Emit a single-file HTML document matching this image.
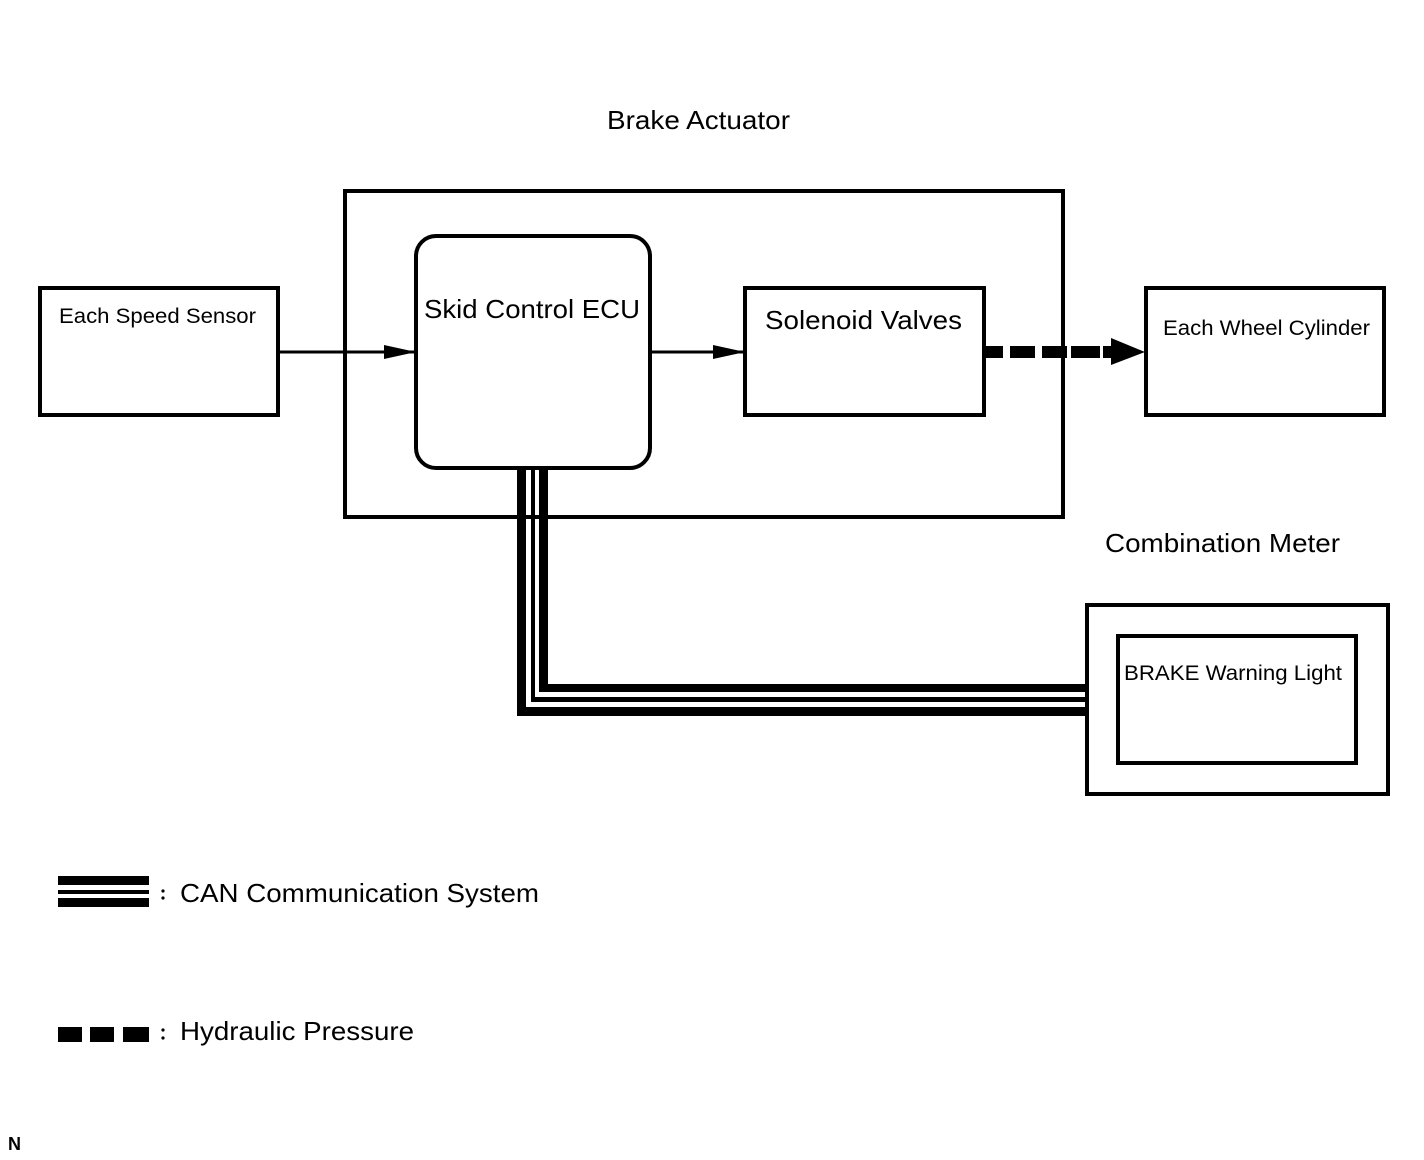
<!DOCTYPE html>
<html><head><meta charset="utf-8"><style>
html,body{margin:0;padding:0;background:#fff;}
svg{display:block;}
text{font-family:"Liberation Sans",Arial,sans-serif;fill:#000;}
</style></head><body>
<svg width="1424" height="1160" viewBox="0 0 1424 1160" xmlns="http://www.w3.org/2000/svg">
<defs>
<marker id="ah" markerWidth="32" markerHeight="14" refX="32" refY="7" orient="auto" markerUnits="userSpaceOnUse">
<path d="M0,0 L32,7 L0,14 Z" fill="#000"/></marker>
</defs>
<text x="607" y="129" font-size="26" textLength="183" lengthAdjust="spacingAndGlyphs">Brake Actuator</text>
<rect x="345" y="191" width="718" height="326" fill="none" stroke="#000" stroke-width="4"/>
<rect x="40" y="288" width="238" height="127" fill="none" stroke="#000" stroke-width="4"/>
<text x="59" y="323" font-size="21" textLength="197" lengthAdjust="spacingAndGlyphs">Each Speed Sensor</text>
<rect x="416" y="236" width="234" height="232" rx="20" fill="none" stroke="#000" stroke-width="4"/>
<text x="424" y="318" font-size="26" textLength="216" lengthAdjust="spacingAndGlyphs">Skid Control ECU</text>
<rect x="745" y="288" width="239" height="127" fill="none" stroke="#000" stroke-width="4"/>
<text x="765" y="329" font-size="26" textLength="197" lengthAdjust="spacingAndGlyphs">Solenoid Valves</text>
<rect x="1146" y="288" width="238" height="127" fill="none" stroke="#000" stroke-width="4"/>
<text x="1163" y="335" font-size="21" textLength="207" lengthAdjust="spacingAndGlyphs">Each Wheel Cylinder</text>
<line x1="280" y1="352" x2="416" y2="352" stroke="#000" stroke-width="3" marker-end="url(#ah)"/>
<line x1="650" y1="352" x2="745" y2="352" stroke="#000" stroke-width="3" marker-end="url(#ah)"/>
<g fill="#000">
<rect x="985" y="346" width="18" height="12"/>
<rect x="1010" y="346" width="25" height="12"/>
<rect x="1042" y="346" width="25" height="12"/>
<rect x="1071" y="346" width="29" height="12"/>
<rect x="1103" y="346" width="10" height="12"/>
<path d="M1111,338 L1145,352 L1111,365 Z"/>
</g>
<text x="1105" y="552" font-size="26" textLength="235" lengthAdjust="spacingAndGlyphs">Combination Meter</text>
<rect x="1087" y="605" width="301" height="189" fill="none" stroke="#000" stroke-width="4"/>
<rect x="1118" y="636" width="238" height="127" fill="none" stroke="#000" stroke-width="4"/>
<text x="1124" y="680" font-size="21" textLength="218" lengthAdjust="spacingAndGlyphs">BRAKE Warning Light</text>
<g fill="#000">
<rect x="517" y="468" width="9" height="248"/>
<rect x="517" y="707" width="570" height="9"/>
<rect x="531" y="468" width="4" height="234"/>
<rect x="531" y="697" width="556" height="5"/>
<rect x="539" y="468" width="9" height="224"/>
<rect x="539" y="684" width="548" height="8"/>
</g>
<g fill="#000">
<rect x="58" y="876" width="91" height="9"/>
<rect x="58" y="890" width="91" height="4"/>
<rect x="58" y="898" width="91" height="9"/>
<rect x="58" y="1027" width="24" height="15"/>
<rect x="90" y="1027" width="24" height="15"/>
<rect x="123" y="1027" width="26" height="15"/>
<circle cx="163" cy="891" r="1.6"/>
<circle cx="163" cy="898" r="1.6"/>
<circle cx="163" cy="1030" r="1.6"/>
<circle cx="163" cy="1038" r="1.6"/>
</g>
<text x="180" y="902" font-size="26" textLength="359" lengthAdjust="spacingAndGlyphs">CAN Communication System</text>
<text x="180" y="1040" font-size="26" textLength="234" lengthAdjust="spacingAndGlyphs">Hydraulic Pressure</text>
<text x="8" y="1150" font-size="18" font-weight="bold">N</text>
</svg>
</body></html>
